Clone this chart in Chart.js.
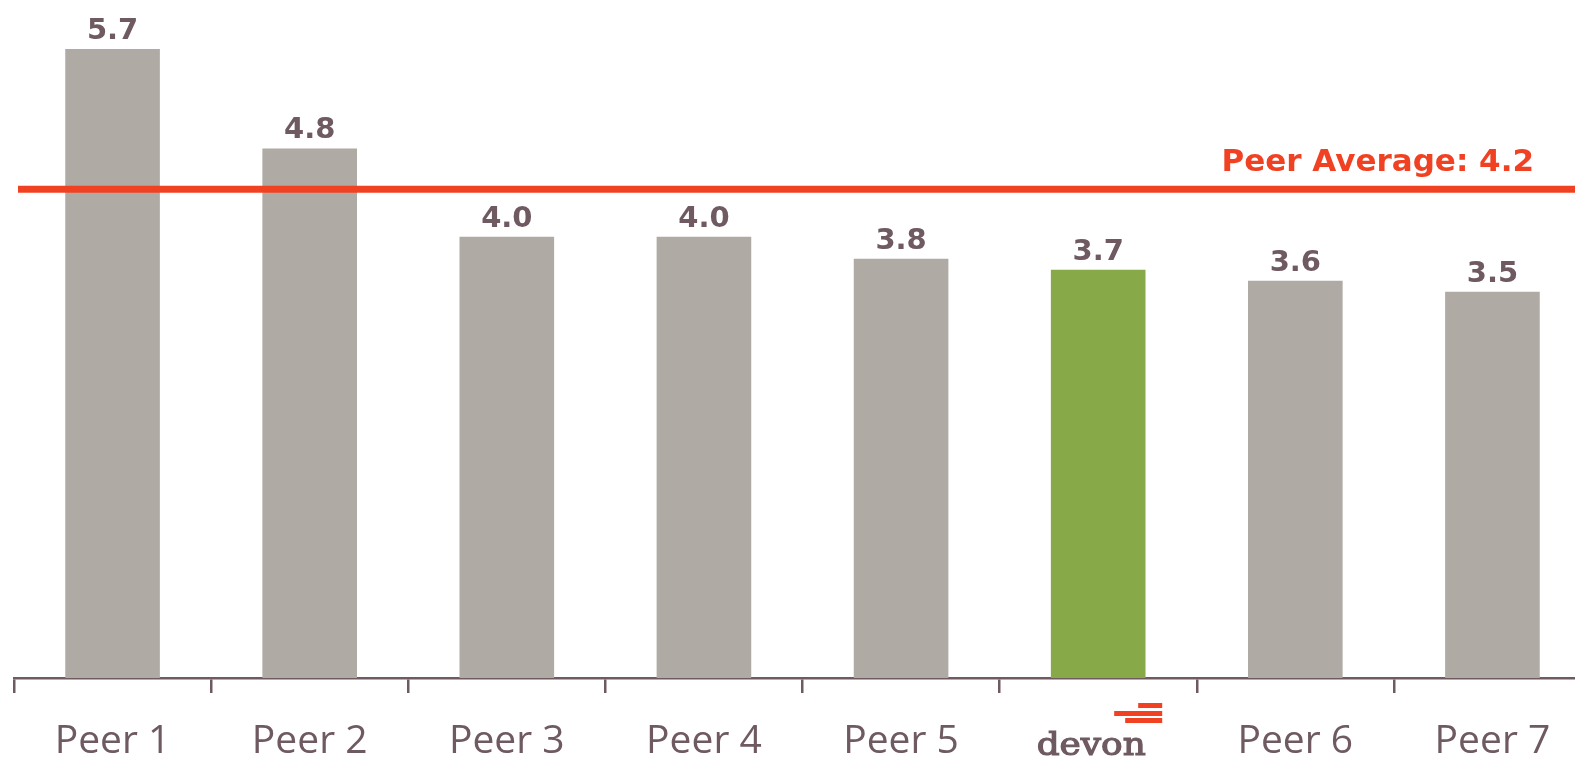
<!DOCTYPE html>
<html>
<head>
<meta charset="utf-8">
<script src="https://cdn.jsdelivr.net/npm/chart.js@4/dist/chart.umd.min.js"></script>
<style>
  html, body { margin: 0; padding: 0; background: #fff; overflow: hidden; }
  .wrap { position: relative; width: 1600px; height: 762px; }
</style>
</head>
<body>
<div class="wrap"><canvas id="chart"></canvas></div>
<script>
const categories = ['Peer 1', 'Peer 2', 'Peer 3', 'Peer 4', 'Peer 5', 'devon', 'Peer 6', 'Peer 7']
const values = [5.7, 4.8, 4.0, 4.0, 3.8, 3.7, 3.6, 3.5]
const peerAverage = 4.2
// the original slide puts the average line a bit above its value, keep it where it was drawn
const averageLineAt = 4.43
const logoIndex = 5

const GREY = '#afaaa3'
const GREEN = '#87a947'
const RED = '#f04223'
const TEXT = '#6e5a60'

// value above each bar
const valueLabels = {
  id: 'valueLabels',
  afterDatasetsDraw(chart) {
    const ctx = chart.ctx
    const meta = chart.getDatasetMeta(0)
    ctx.save()
    ctx.fillStyle = TEXT
    ctx.font = 'bold 29px "DejaVu Sans"'
    ctx.textAlign = 'center'
    ctx.textBaseline = 'alphabetic'
    meta.data.forEach((bar, i) => {
      ctx.fillText(values[i].toFixed(1), bar.x, bar.y - 10)
    })
    ctx.restore()
  }
}

// red peer average line + label
const averageLine = {
  id: 'averageLine',
  afterDatasetsDraw(chart) {
    const ctx = chart.ctx
    const y = chart.scales.y.getPixelForValue(averageLineAt)
    ctx.save()
    ctx.strokeStyle = RED
    ctx.lineWidth = 7
    ctx.beginPath()
    ctx.moveTo(18, y)
    ctx.lineTo(chart.width, y)
    ctx.stroke()
    ctx.fillStyle = RED
    ctx.font = 'bold 31px "DejaVu Sans"'
    ctx.textAlign = 'right'
    ctx.textBaseline = 'alphabetic'
    ctx.fillText('Peer Average: ' + peerAverage.toFixed(1), 1534, y - 18)
    ctx.restore()
  }
}

// devon wordmark in place of the tick label
const logoLabel = {
  id: 'logoLabel',
  afterDraw(chart) {
    const ctx = chart.ctx
    const cx = chart.scales.x.getPixelForValue(logoIndex)
    ctx.save()
    ctx.fillStyle = RED
    ctx.fillRect(cx + 40, 703, 24, 5)
    ctx.fillRect(cx + 16, 711, 48, 5)
    ctx.fillRect(cx + 27, 718, 37, 5)
    ctx.translate(cx - 7, 755)
    ctx.scale(1.12, 1)
    ctx.fillStyle = TEXT
    ctx.strokeStyle = TEXT
    ctx.lineWidth = 1.2
    ctx.font = '32px "DejaVu Serif"'
    ctx.textAlign = 'center'
    ctx.textBaseline = 'alphabetic'
    ctx.fillText(categories[logoIndex], 0, 0)
    ctx.strokeText(categories[logoIndex], 0, 0)
    ctx.restore()
  }
}

new Chart(document.getElementById('chart'), {
  type: 'bar',
  data: {
    labels: categories,
    datasets: [{
      data: values,
      backgroundColor: categories.map((c, i) => i === logoIndex ? GREEN : GREY),
      barPercentage: 0.48,
      categoryPercentage: 1,
    }],
  },
  options: {
    responsive: true,
    maintainAspectRatio: false,
    animation: false,
    layout: { padding: { left: 14, right: 9, top: 16, bottom: 0 } },
    plugins: {
      legend: { display: false },
      tooltip: { enabled: false },
    },
    scales: {
      x: {
        afterFit: (scale) => { scale.height = 84 },
        grid: {
          offset: true,
          drawOnChartArea: false,
          tickLength: 15,
          color: TEXT,
          lineWidth: 2.5,
        },
        border: { color: TEXT, width: 2.5 },
        ticks: {
          color: TEXT,
          font: { family: '"Open Sans"', size: 39 },
          padding: 25,
          callback: (v, i) => i === logoIndex ? '' : categories[i],
        },
      },
      y: {
        display: false,
        min: 0,
        max: 6,
      },
    },
  },
  plugins: [valueLabels, averageLine, logoLabel],
})
</script>
</body>
</html>
